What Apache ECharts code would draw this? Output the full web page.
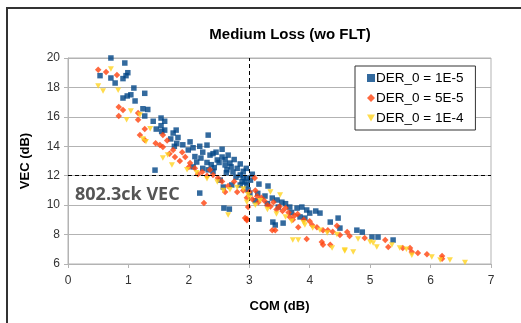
<!DOCTYPE html>
<html>
<head>
<meta charset="utf-8">
<script src="https://cdn.jsdelivr.net/npm/echarts@6/dist/echarts.min.js"></script>
<style>
  html, body { margin: 0; padding: 0; background: #fff; }
  #chart { width: 521px; height: 323px; }
</style>
</head>
<body>
<div id="chart"></div>
<script>
// series names
var seriesNames = ['DER_0 = 1E-5', 'DER_0 = 5E-5', 'DER_0 = 1E-4'];

// [COM, VEC] points
var der1e5 = [
  [0.71,20.0],[0.94,19.66],[0.99,19.0],[0.96,18.8],[0.53,18.8],[0.71,18.64],[0.78,18.3],[0.91,18.6],
  [1.09,17.96],[1.27,17.6],[0.91,17.28],[0.98,17.42],[1.04,17.5],[1.11,17.08],[1.24,16.55],[1.32,16.5],
  [1.27,16.06],[1.41,15.7],[1.54,15.92],[1.6,15.7],[1.46,15.17],[1.6,15.1],[1.54,15.4],[1.79,15.1],
  [1.55,15.0],[1.74,14.9],[1.82,14.6],[1.8,14.2],[1.76,14.0],[2.02,14.3],[1.99,13.75],[2.07,13.9],
  [2.18,14.0],[2.3,14.08],[2.32,14.76],[2.23,13.6],[2.35,13.4],[2.4,13.5],[2.47,13.07],[2.55,13.27],
  [2.6,12.73],[2.68,12.86],[2.63,12.4],[2.73,12.25],[2.8,12.5],[2.85,12.05],[2.9,11.9],[2.96,11.84],
  [2.93,11.57],[3.02,11.7],[2.52,11.7],[2.57,11.23],[2.71,11.37],[2.85,11.37],[2.18,10.82],[2.58,9.8],
  [2.67,9.73],[2.07,12.6],[2.13,12.93],[2.23,12.5],[2.32,12.4],[2.4,12.3],[2.37,12.75],[1.44,12.38],
  [2.45,13.6],[2.55,13.8],[2.65,13.4],[2.75,13.1],[2.85,12.8],[2.95,12.5],[2.7,12.6],[2.9,12.3],
  [3.05,12.1],[2.6,13.1],[3.16,11.43],[3.31,11.3],[2.96,11.37],[2.98,11.03],[3.01,10.82],[3.14,10.8],
  [3.26,10.62],[3.38,10.48],[3.46,10.35],[3.54,10.2],[3.6,10.1],[3.16,9.05],[3.39,8.85],[3.43,8.65],
  [3.56,8.78],[3.79,9.8],[3.87,9.87],[3.95,9.67],[4.0,9.46],[3.92,9.12],[3.84,9.2],[4.17,9.46],
  [4.34,8.85],[4.47,9.12],[4.5,8.44],[3.67,9.87],[3.48,9.87],[3.7,9.5],[4.1,9.6],[4.78,8.3],
  [4.87,8.17],[5.03,7.83],[5.13,7.83],[5.38,7.63],[1.7,14.5],[1.9,14.1],[2.1,13.3],[2.2,13.2],
  [2.3,12.9],[3.1,10.3],[3.3,10.1],[2.5,12.9],[2.62,12.2],[2.78,11.9],[2.88,11.6],[2.42,12.55]
];
var der5e5 = [
  [0.5,19.2],[0.63,19.05],[0.81,18.85],[0.84,16.67],[0.91,16.47],[0.84,16.06],[1.16,16.26],[1.16,15.8],
  [1.27,15.17],[1.19,14.76],[1.27,14.42],[1.52,14.08],[1.57,13.95],[1.57,14.76],[1.64,14.4],[1.74,13.75],
  [1.77,13.27],[1.68,13.5],[1.89,13.6],[1.94,13.27],[2.02,12.86],[2.1,12.5],[2.22,12.25],[2.35,12.4],
  [2.4,12.05],[2.48,11.84],[2.55,11.6],[2.6,10.9],[2.9,11.0],[2.96,10.5],[2.98,9.87],[2.93,9.12],
  [2.25,10.14],[3.1,11.0],[3.13,10.6],[2.96,8.98],[3.09,11.84],[3.0,10.9],[3.05,10.4],[3.15,10.2],
  [3.2,10.5],[3.25,10.3],[3.3,10.0],[3.35,9.9],[3.4,10.2],[3.45,9.7],[3.5,9.9],[3.55,9.6],
  [3.6,9.8],[3.65,9.5],[2.96,9.05],[3.38,8.3],[3.43,8.3],[3.95,7.7],[4.2,7.5],[4.22,7.3],
  [4.34,7.3],[3.81,8.5],[4.04,8.65],[4.12,8.5],[3.67,9.2],[3.72,9.0],[4.22,8.3],[4.3,8.3],
  [4.38,8.2],[4.5,7.97],[4.62,8.17],[4.66,7.9],[4.91,7.76],[5.25,7.63],[5.3,7.15],[5.54,7.08],
  [5.66,7.08],[5.69,6.81],[5.79,6.74],[5.94,6.67],[6.19,6.54],[6.19,6.35],[2.3,12.0],[2.65,11.3],
  [2.75,11.6],[2.8,10.9],[3.75,9.3],[3.9,9.0],[4.0,8.9],[4.45,8.6],[1.45,14.2],[1.85,13.0],
  [2.0,12.6],[3.8,9.4],[2.15,12.1]
];
var der1e4 = [
  [0.5,18.1],[0.58,17.76],[0.71,19.25],[0.83,17.8],[1.04,16.4],[1.19,16.13],[1.24,14.5],[1.29,14.3],
  [1.65,13.4],[1.57,13.2],[1.72,12.73],[1.97,12.4],[2.13,12.2],[2.47,11.57],[2.57,11.0],[2.68,11.05],
  [2.65,9.33],[2.98,10.7],[3.0,10.5],[2.96,10.2],[3.18,10.3],[3.51,10.69],[3.72,7.63],[3.81,7.63],
  [4.37,7.08],[4.58,6.88],[3.92,8.65],[4.29,8.1],[4.17,8.3],[4.58,6.95],[4.72,6.81],[5.05,7.42],
  [5.11,7.15],[5.36,7.29],[5.49,7.08],[5.6,7.0],[5.69,6.6],[6.02,6.47],[6.16,6.27],[6.32,6.27],
  [6.57,6.1],[2.3,11.8],[2.8,11.2],[3.1,10.0],[3.3,9.7],[3.45,9.4],[3.6,9.2],[3.9,8.8],
  [4.05,8.45],[4.45,8.0],[4.8,7.7],[5.0,7.5],[3.35,10.9],[2.9,11.1],[3.7,8.9],[1.36,15.2],
  [0.97,15.8]
];

// reference lines
var comLimit = 3;
var vecLimit = 12;

var downTriangle = 'path://M0,0 L10,0 L5,9 Z';

var myChart = echarts.init(document.getElementById('chart'));

var axisLabelStyle = { color: '#333', fontFamily: 'Liberation Sans', fontSize: 12 };

var option = {
    backgroundColor: '#fff',
    animation: false,
    title: {
        text: 'Medium Loss (wo FLT)',
        left: 285,
        top: 22,
        textAlign: 'center',
        textStyle: { fontFamily: 'Liberation Sans', fontWeight: 'bold', fontSize: 15, color: '#000' }
    },
    graphic: [
        {
            type: 'rect',
            shape: { x: 7, y: 8, width: 540, height: 340 },
            style: { fill: 'none', stroke: '#333', lineWidth: 2 },
            silent: true
        },
        {
            type: 'text',
            left: 75,
            top: 186,
            style: { text: '802.3ck VEC', fill: '#555', font: 'bold 18px "Open Sans"' },
            z: 10
        }
    ],
    legend: {
        orient: 'vertical',
        left: 355,
        top: 66,
        padding: [5, 12, 5, 12],
        itemGap: 6,
        itemWidth: 8,
        itemHeight: 8,
        backgroundColor: '#fff',
        borderColor: '#333',
        borderWidth: 1,
        textStyle: { fontFamily: 'Liberation Sans', fontSize: 13.5, color: '#000', padding: [0, 0, 0, -4] },
        data: [
            { name: seriesNames[0], icon: 'rect' },
            { name: seriesNames[1], icon: 'diamond' },
            { name: seriesNames[2], icon: downTriangle }
        ]
    },
    grid: {
        left: 68,
        right: 30,
        top: 58,
        bottom: 59,
        show: true,
        borderColor: '#b3b3b3',
        borderWidth: 1
    },
    xAxis: {
        type: 'value',
        min: 0,
        max: 7,
        interval: 1,
        name: 'COM (dB)',
        nameLocation: 'middle',
        nameGap: 36,
        nameTextStyle: { fontFamily: 'Liberation Sans', fontWeight: 'bold', fontSize: 13, color: '#000' },
        axisLine: { show: true, lineStyle: { color: '#b3b3b3' } },
        axisTick: { show: true, length: 4, lineStyle: { color: '#b3b3b3' } },
        axisLabel: Object.assign({ margin: 11 }, axisLabelStyle),
        splitLine: { show: false }
    },
    yAxis: {
        type: 'value',
        min: 6,
        max: 20,
        interval: 2,
        name: 'VEC (dB)',
        nameLocation: 'middle',
        nameGap: 36,
        nameTextStyle: { fontFamily: 'Liberation Sans', fontWeight: 'bold', fontSize: 13, color: '#000' },
        axisLine: { show: true, lineStyle: { color: '#b3b3b3' } },
        axisTick: { show: true, length: 4, lineStyle: { color: '#b3b3b3' } },
        axisLabel: axisLabelStyle,
        splitLine: { show: true, lineStyle: { color: '#b3b3b3', width: 1 } }
    },
    series: [
        {
            name: seriesNames[0],
            type: 'scatter',
            symbol: 'rect',
            symbolSize: 5.5,
            itemStyle: { color: '#004586' },
            data: der1e5,
            z: 3,
            markLine: {
                silent: true,
                symbol: 'none',
                label: { show: false },
                lineStyle: { color: '#000', type: [4, 3], width: 1 },
                data: [{ xAxis: comLimit }, { yAxis: vecLimit }]
            }
        },
        {
            name: seriesNames[1],
            type: 'scatter',
            symbol: 'diamond',
            symbolSize: 6.5,
            itemStyle: { color: '#ff420e' },
            data: der5e5,
            z: 4
        },
        {
            name: seriesNames[2],
            type: 'scatter',
            symbol: downTriangle,
            symbolSize: [6, 5.5],
            itemStyle: { color: '#ffd320' },
            data: der1e4,
            z: 5
        }
    ]
};
myChart.setOption(option);
</script>
</body>
</html>
